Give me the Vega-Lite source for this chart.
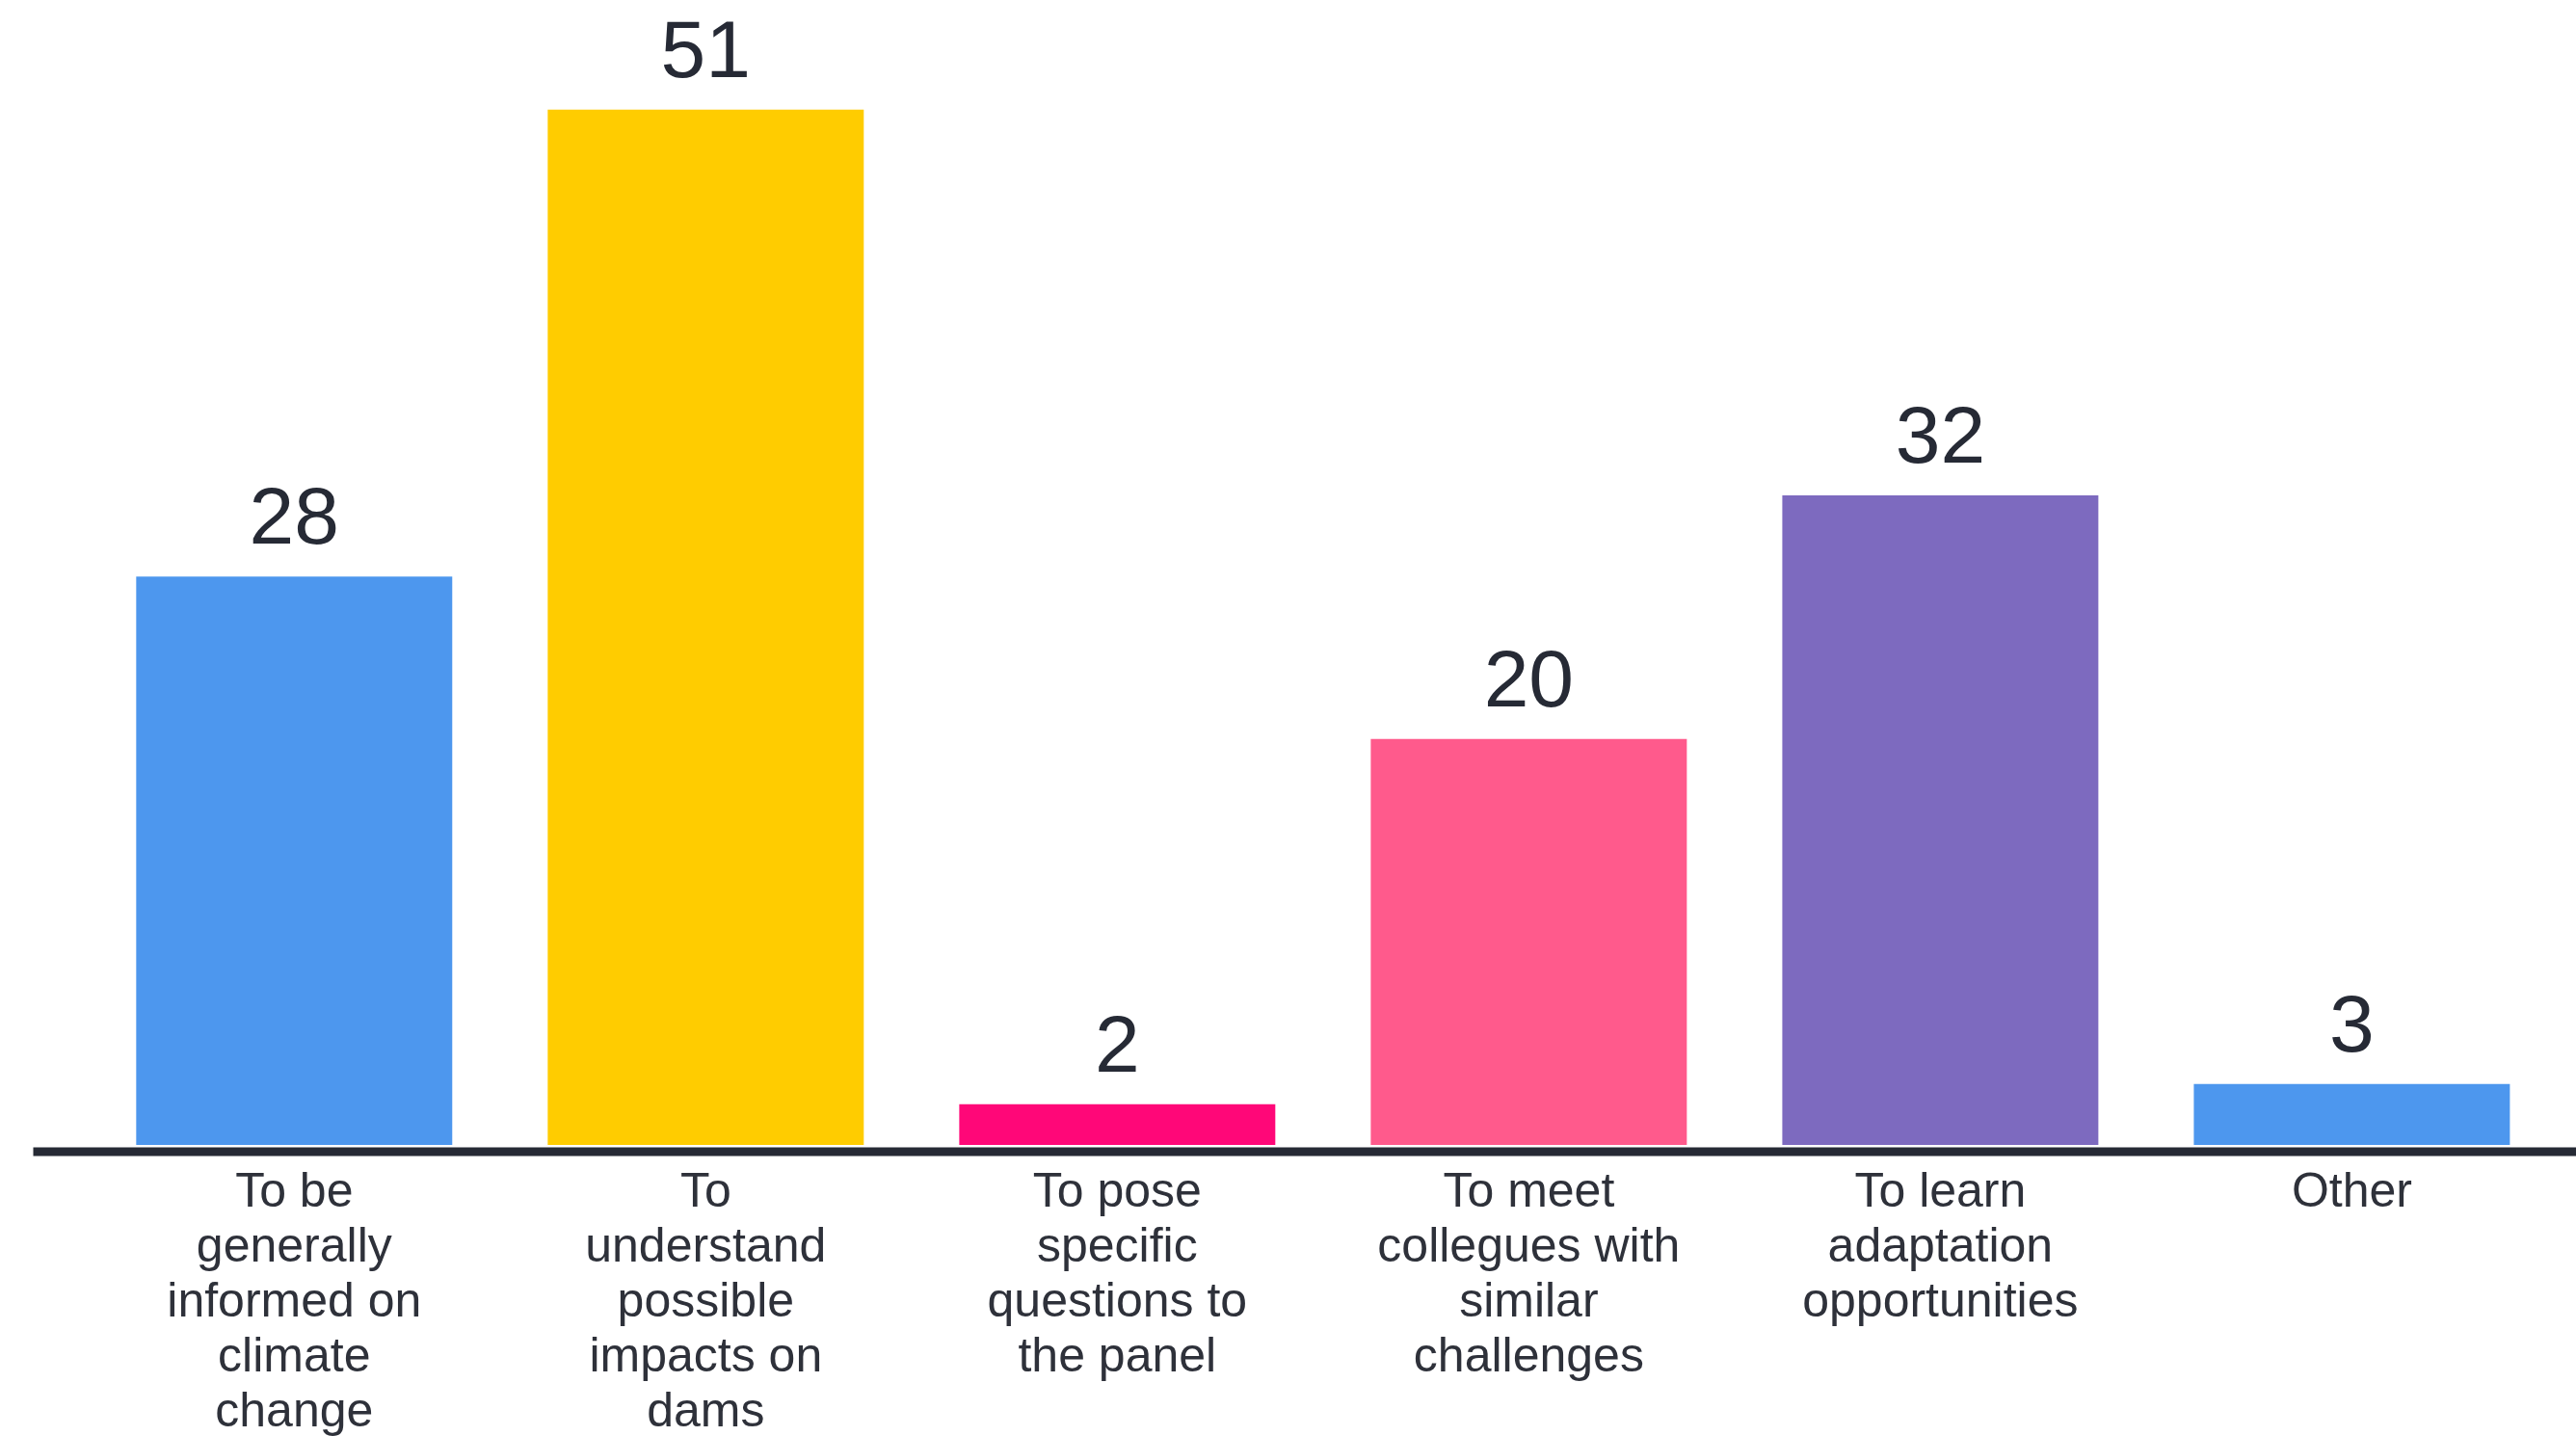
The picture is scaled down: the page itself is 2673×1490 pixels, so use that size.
{
  "$schema": "https://vega.github.io/schema/vega-lite/v6.json",
  "width": 2639,
  "height": 1188,
  "autosize": {"type": "none"},
  "padding": {"left": 34, "top": 0, "right": 0, "bottom": 302},
  "background": "white",
  "config": {"view": {"stroke": null}},
  "data": {
    "values": [
      {"reason": "To be\ngenerally\ninformed on\nclimate\nchange", "count": 28},
      {"reason": "To\nunderstand\npossible\nimpacts on\ndams", "count": 51},
      {"reason": "To pose\nspecific\nquestions to\nthe panel", "count": 2},
      {"reason": "To meet\ncollegues with\nsimilar\nchallenges", "count": 20},
      {"reason": "To learn\nadaptation\nopportunities", "count": 32},
      {"reason": "Other", "count": 3}
    ]
  },
  "encoding": {
    "x": {
      "field": "reason",
      "type": "nominal",
      "sort": null,
      "scale": {"paddingInner": 0.232, "paddingOuter": 0.206, "align": 0.61},
      "axis": {
        "title": null,
        "ticks": false,
        "grid": false,
        "domainColor": "#262a35",
        "domainWidth": 9,
        "offset": 6.5,
        "labelAngle": 0,
        "labelFont": "Liberation Sans",
        "labelFontSize": 50,
        "labelLineHeight": 57,
        "labelPadding": 17,
        "labelColor": "#2e313a",
        "labelBaseline": "top",
        "labelLimit": 600,
        "labelExpr": "split(datum.label, '\\n')"
      }
    },
    "y": {
      "field": "count",
      "type": "quantitative",
      "scale": {"domain": [0, 56.4], "nice": false},
      "axis": null
    }
  },
  "layer": [
    {
      "mark": {"type": "bar"},
      "encoding": {
        "color": {
          "field": "reason",
          "type": "nominal",
          "sort": null,
          "legend": null,
          "scale": {
            "domain": [
              "To be\ngenerally\ninformed on\nclimate\nchange",
              "To\nunderstand\npossible\nimpacts on\ndams",
              "To pose\nspecific\nquestions to\nthe panel",
              "To meet\ncollegues with\nsimilar\nchallenges",
              "To learn\nadaptation\nopportunities",
              "Other"
            ],
            "range": ["#4D97EE", "#FFCC00", "#FF0778", "#FF5A8C", "#7D6ABF", "#4D97EE"]
          }
        }
      }
    },
    {
      "mark": {
        "type": "text",
        "baseline": "alphabetic",
        "align": "center",
        "dy": -34,
        "fontSize": 84,
        "font": "Liberation Sans",
        "color": "#262a35"
      },
      "encoding": {"text": {"field": "count", "type": "quantitative"}}
    }
  ]
}
